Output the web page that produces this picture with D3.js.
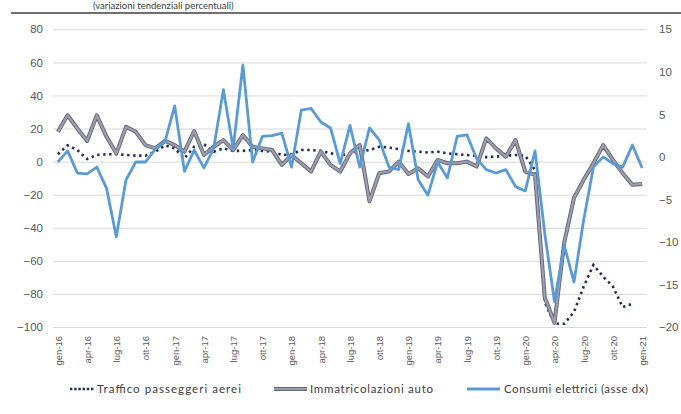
<!DOCTYPE html>
<html>
<head>
<meta charset="utf-8">
<script src="https://cdn.jsdelivr.net/npm/d3@7"></script>
<style>
    body { margin: 0; background: #fff; }
    svg { display: block; font-family: Lato, "Open Sans", sans-serif; }
    .tick text { fill: #595959; }
    .legend text { fill: #404040; font-size: 11.5px; }
</style>
</head>
<body>
<svg width="681" height="414"></svg>
<script>
// Month names used on the category axis
var monthNames = ['gen','feb','mar','apr','mag','giu','lug','ago','set','ott','nov','dic'];
var months = [];
for (var y = 16; y <= 21; y++) {
    monthNames.forEach(function(m, k) {
        if (y < 21 || k === 0) months.push(m + '-' + y);
    });
}

// Traffico passeggeri aerei (left axis)
var airTraffic = [4.5, 9.8, 7, 1.6, 4, 4.4, 4.5, 4, 3.6, 3.6, 6, 9.8,
    8, 2, 9, 10.5, 6, 8, 6.5, 6.5, 7, 6.5, 6, 4,
    4.4, 7, 7, 6.5, 5, 4, 4.4, 6, 7, 9, 8.5, 7.5,
    6.5, 6, 5.5, 6, 5, 4.5, 4, 3.5, 2.7, 3, 3.5, 4,
    3.5, -5, -85, -98, -98, -91, -75.5, -62.5, -69.5, -75.5, -88, -86,
    null];

// Immatricolazioni auto (left axis)
var carRegs = [18, 28, 20, 12.5, 28, 15, 5, 21, 18, 10, 8, 12.5,
    10, 6, 18.5, 4, 9, 13, 7, 16, 9, 8, 7, -2,
    4, -1, -6, 6, -2, -6, 5, 10, -24, -7, -6, 0,
    -7.5, -4, -9, 1, -1, -1, 0, -3, 14, 8, 3, 13,
    -6, -8, -82, -97.5, -49, -22, -11, -1, 10, 1, -7, -14,
    -13.5];

// Consumi elettrici (right axis)
var power = [-0.6, 0.7, -1.9, -2.0, -1.2, -3.7, -9.4, -2.7, -0.6, -0.6, 0.9, 1.8,
    6.0, -1.7, 0.8, -1.3, 1, 7.9, 1, 10.8, -0.6, 2.4, 2.5, 2.8,
    -1.2, 5.5, 5.7, 4.1, 3.4, -0.8, 3.7, -1.2, 3.4, 2, -1.2, -1.5,
    3.9, -2.7, -4.5, -0.6, -2.5, 2.4, 2.6, -0.2, -1.5, -1.9, -1.5, -3.5,
    -4.0, 0.7, -9, -17, -10.4, -14.7, -7.4, -1.2, 0, -0.8, -1.2, 1.4,
    -1.3];

var leftTicks = d3.range(-100, 81, 20);
var rightTicks = d3.range(-20, 16, 5);

var svg = d3.select('svg');
var plot = {l: 53, r: 647, t: 29.3, b: 327};

var xScale = d3.scalePoint().domain(months).range([plot.l, plot.r]).padding(0.5);
var yLeft = d3.scaleLinear().domain([-100, 80]).range([plot.b, plot.t]);
var yRight = d3.scaleLinear().domain([-20, 15]).range([plot.b, plot.t]);

// Subtitle (mostly cut in the source) and rule at the top
svg.append('text')
    .attr('x', 93).attr('y', 8.5)
    .attr('font-size', 9.5).attr('fill', '#404040')
    .text('(variazioni tendenziali percentuali)');
svg.append('line')
    .attr('x1', 11).attr('x2', 681).attr('y1', 13).attr('y2', 13)
    .attr('stroke', '#3f3f3f').attr('stroke-width', 1.5);

// Gridlines + left labels
var leftAxis = svg.append('g')
    .attr('transform', 'translate(' + plot.l + ',0)')
    .call(d3.axisLeft(yLeft).tickValues(leftTicks).tickSize(-(plot.r - plot.l)).tickPadding(10));
leftAxis.select('.domain').remove();
leftAxis.selectAll('line').attr('stroke', '#d9d9d9').attr('stroke-width', 1);
leftAxis.selectAll('text').attr('font-size', 11.5);

var rightAxis = svg.append('g')
    .attr('transform', 'translate(' + plot.r + ',0)')
    .call(d3.axisRight(yRight).tickValues(rightTicks).tickSize(0).tickPadding(12));
rightAxis.select('.domain').remove();
rightAxis.selectAll('text').attr('font-size', 11.5);

// Category axis, every third month, vertical labels
var xAxis = svg.append('g')
    .attr('transform', 'translate(0,' + plot.b + ')')
    .call(d3.axisBottom(xScale).tickValues(months.filter(function(d, i){ return i % 3 === 0; })).tickSize(0));
xAxis.select('.domain').remove();
xAxis.selectAll('text')
    .attr('font-size', 9.5)
    .attr('transform', 'rotate(-90)')
    .attr('text-anchor', 'end')
    .attr('x', -9).attr('y', 0).attr('dy', '0.35em');

function makeLine(scale) {
    return d3.line()
        .defined(function(d){ return d != null; })
        .x(function(d, i){ return xScale(months[i]); })
        .y(function(d){ return scale(d); });
}

svg.append('path')
    .datum(airTraffic)
    .attr('d', makeLine(yLeft))
    .attr('fill', 'none')
    .attr('stroke', '#1f2b5c')
    .attr('stroke-width', 2.6)
    .attr('stroke-dasharray', '2.4,3.6');

svg.append('path')
    .datum(carRegs)
    .attr('d', makeLine(yLeft))
    .attr('fill', 'none')
    .attr('stroke', '#62667a')
    .attr('stroke-width', 4)
    .attr('stroke-linejoin', 'round');
svg.append('path')
    .datum(carRegs)
    .attr('d', makeLine(yLeft))
    .attr('fill', 'none')
    .attr('stroke', '#9c9eac')
    .attr('stroke-width', 2.2)
    .attr('stroke-linejoin', 'round');

svg.append('path')
    .datum(power)
    .attr('d', makeLine(yRight))
    .attr('fill', 'none')
    .attr('stroke', '#5b9bd5')
    .attr('stroke-width', 2.8)
    .attr('stroke-linejoin', 'round');

// Legend
var legend = svg.append('g').attr('class', 'legend');
var legY = 389;
legend.append('line')
    .attr('x1', 70).attr('x2', 94).attr('y1', legY).attr('y2', legY)
    .attr('stroke', '#1f2b5c').attr('stroke-width', 2.6).attr('stroke-dasharray', '2.4,1.8');
legend.append('text').attr('x', 97).attr('y', legY).attr('dy', '0.35em')
    .attr('textLength', 144).attr('lengthAdjust', 'spacing')
    .text('Traffico passeggeri aerei');
legend.append('line')
    .attr('x1', 274).attr('x2', 307).attr('y1', legY).attr('y2', legY)
    .attr('stroke', '#62667a').attr('stroke-width', 4);
legend.append('line')
    .attr('x1', 274).attr('x2', 307).attr('y1', legY).attr('y2', legY)
    .attr('stroke', '#9c9eac').attr('stroke-width', 2.2);
legend.append('text').attr('x', 310).attr('y', legY).attr('dy', '0.35em')
    .attr('textLength', 123).attr('lengthAdjust', 'spacing')
    .text('Immatricolazioni auto');
legend.append('line')
    .attr('x1', 467).attr('x2', 500).attr('y1', legY).attr('y2', legY)
    .attr('stroke', '#5b9bd5').attr('stroke-width', 2.8);
legend.append('text').attr('x', 504).attr('y', legY).attr('dy', '0.35em')
    .attr('textLength', 144).attr('lengthAdjust', 'spacing')
    .text('Consumi elettrici (asse dx)');
</script>
</body>
</html>
